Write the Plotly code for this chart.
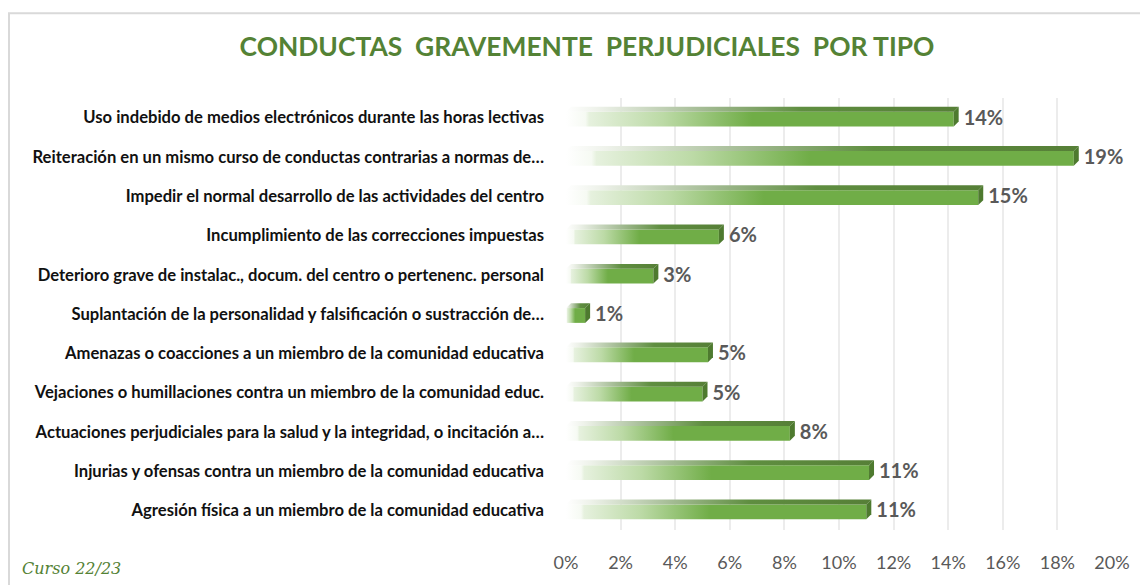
"""
Conductas gravemente perjudiciales por tipo — horizontal pseudo-3D bars
with a white→green gradient, value labels at the bar ends.
"""

import plotly.graph_objects as go

CATEGORIES = [
    "Uso indebido de medios electrónicos durante las horas lectivas",
    "Reiteración en un mismo curso de conductas contrarias a normas de…",
    "Impedir el normal desarrollo de las actividades del centro",
    "Incumplimiento de las correcciones impuestas",
    "Deterioro grave de instalac., docum. del centro o pertenenc. personal",
    "Suplantación de la personalidad y falsificación o sustracción de…",
    "Amenazas o coacciones a un miembro de la comunidad educativa",
    "Vejaciones o humillaciones contra un miembro de la comunidad educ.",
    "Actuaciones perjudiciales para la salud y la integridad, o incitación a…",
    "Injurias y ofensas contra un miembro de la comunidad educativa",
    "Agresión física a un miembro de la comunidad educativa",
]
VALUES = [0.142, 0.186, 0.151, 0.056, 0.032, 0.007, 0.052, 0.050, 0.082, 0.111, 0.110]

X_TICKS = [0.0, 0.02, 0.04, 0.06, 0.08, 0.10, 0.12, 0.14, 0.16, 0.18, 0.20]

TITLE = "CONDUCTAS  GRAVEMENTE  PERJUDICIALES  POR TIPO"
FOOTNOTE = "Curso 22/23"

GREEN = "#70AD47"
DARK_GREEN = "#548235"
TEXT_GREY = "#595959"

# ── geometry (pixels) ─────────────────────────────────────────────────────────
# the page body adds an 8px margin, so everything is laid out 8px up/left
OFF = 8
W, H = 1148 - OFF, 585 - OFF
M_L, M_R, M_T, M_B = 566 - OFF, 36, 98 - OFF, 49
PLOT_W = W - M_L - M_R
PLOT_H = H - M_T - M_B
X_MAX = 0.20
N = len(CATEGORIES)

px_x = X_MAX / PLOT_W            # data units per pixel, x
px_y = N / PLOT_H                # row units per pixel, y

DEPTH_X = 5 * px_x               # 3D depth offset
DEPTH_Y = 5 * px_y
FRONT_TOP = -6 * px_y            # front face span relative to row centre
FRONT_BOT = 9 * px_y

FRONT_SCALE = [[0, "#ffffff"], [0.05, "#f6faf3"], [0.06, "#e6f1de"],
               [0.25, "#bcdaa6"], [0.48, GREEN], [1, GREEN]]
TOP_SCALE = [[0, "#ffffff"], [0.08, "#eef2ea"], [0.35, "#a3bb93"],
             [0.6, "#5f8e40"], [1, "#567f37"]]


def px_to_paper_x(px):
    return (px - OFF - M_L) / PLOT_W


def px_to_paper_y(py):
    return (H - M_B - (py - OFF)) / PLOT_H


fig = go.Figure()

for i, v in enumerate(VALUES):
    c = i
    # front face
    fig.add_trace(go.Scatter(
        x=[0, v, v, 0, 0],
        y=[c + FRONT_TOP, c + FRONT_TOP, c + FRONT_BOT, c + FRONT_BOT, c + FRONT_TOP],
        mode="lines", line=dict(width=0), fill="toself",
        fillgradient=dict(type="horizontal", colorscale=FRONT_SCALE, start=0, stop=v),
        hoverinfo="skip", showlegend=False,
    ))
    # top face
    fig.add_trace(go.Scatter(
        x=[0, v, v + DEPTH_X, DEPTH_X, 0],
        y=[c + FRONT_TOP, c + FRONT_TOP, c + FRONT_TOP - DEPTH_Y,
           c + FRONT_TOP - DEPTH_Y, c + FRONT_TOP],
        mode="lines", line=dict(width=0), fill="toself",
        fillgradient=dict(type="horizontal", colorscale=TOP_SCALE, start=0, stop=v + DEPTH_X),
        hoverinfo="skip", showlegend=False,
    ))
    # side face
    fig.add_trace(go.Scatter(
        x=[v, v + DEPTH_X, v + DEPTH_X, v, v],
        y=[c + FRONT_TOP, c + FRONT_TOP - DEPTH_Y, c + FRONT_BOT - DEPTH_Y,
           c + FRONT_BOT, c + FRONT_TOP],
        mode="lines", line=dict(width=0), fill="toself",
        fillcolor="#4e7a2f", hoverinfo="skip", showlegend=False,
    ))

# value labels
fig.add_trace(go.Scatter(
    x=[v + DEPTH_X + 5 * px_x for v in VALUES],
    y=[i + 2 * px_y for i in range(N)],
    mode="text",
    text=[f"{v:.0%}" for v in VALUES],
    textposition="middle right",
    textfont=dict(family="Lato", size=20, color=TEXT_GREY, weight="bold"),
    cliponaxis=False,
    hoverinfo="skip", showlegend=False,
))

fig.update_xaxes(
    range=[0, X_MAX], tickvals=X_TICKS, tickformat=".0%",
    showgrid=True, gridcolor="#ececec", gridwidth=2,
    zeroline=False, showline=False, ticks="",
    ticklabelstandoff=20,
    tickfont=dict(family="Lato", size=18, color=TEXT_GREY),
)
fig.update_yaxes(
    range=[N - 0.5, -0.5], tickvals=list(range(N)), ticktext=CATEGORIES,
    showgrid=False, zeroline=False, showline=False, ticks="",
    ticklabelstandoff=21,
    tickfont=dict(family="Lato", size=16.6, color="#111111", weight="bold"),
)

fig.update_layout(
    width=W, height=H,
    margin=dict(l=M_L, r=M_R, t=M_T, b=M_B),
    paper_bgcolor="white", plot_bgcolor="white",
    title=dict(
        text=TITLE, x=(587 - OFF) / W, xanchor="center",
        y=1 - (47 - OFF) / H, yanchor="middle",
        font=dict(family="Lato", size=26.4, color=DARK_GREEN, weight="bold"),
    ),
    shapes=[dict(
        type="rect", xref="paper", yref="paper", layer="below",
        x0=px_to_paper_x(9), x1=px_to_paper_x(1148 + 20),
        y0=px_to_paper_y(585 + 20), y1=px_to_paper_y(12),
        line=dict(color="#d9d9d9", width=2), fillcolor="rgba(0,0,0,0)",
    )],
    annotations=[dict(
        text=FOOTNOTE, xref="paper", yref="paper", showarrow=False,
        x=px_to_paper_x(20), y=px_to_paper_y(575), xanchor="left", yanchor="middle",
        font=dict(family="DejaVu Serif", size=16, color=DARK_GREEN, style="italic"),
    )],
)

fig.write_html("out.html")
